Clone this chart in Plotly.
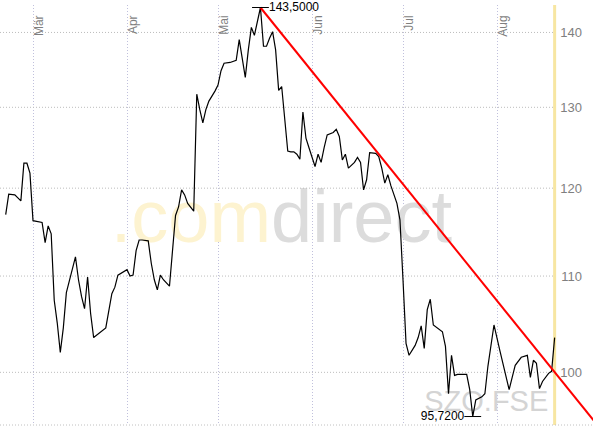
import plotly.graph_objects as go
import pandas as pd

# ---- data ----
dates = [
    "2007-02-20", "2007-02-21", "2007-02-23", "2007-02-25", "2007-02-26", "2007-02-27", "2007-02-28",
    "2007-03-01", "2007-03-04", "2007-03-05", "2007-03-06", "2007-03-07", "2007-03-08", "2007-03-09",
    "2007-03-10", "2007-03-11", "2007-03-12", "2007-03-13", "2007-03-15", "2007-03-16", "2007-03-17",
    "2007-03-18", "2007-03-19", "2007-03-20", "2007-03-21", "2007-03-25", "2007-03-27", "2007-03-28",
    "2007-03-29", "2007-04-01", "2007-04-02", "2007-04-03", "2007-04-04", "2007-04-05", "2007-04-06",
    "2007-04-08", "2007-04-09", "2007-04-10", "2007-04-11", "2007-04-12", "2007-04-13", "2007-04-15",
    "2007-04-16", "2007-04-17", "2007-04-18", "2007-04-19", "2007-04-20", "2007-04-21", "2007-04-23",
    "2007-04-24", "2007-04-25", "2007-04-26", "2007-04-27", "2007-04-28", "2007-04-30", "2007-05-01",
    "2007-05-02", "2007-05-03", "2007-05-05", "2007-05-07", "2007-05-08", "2007-05-10", "2007-05-11",
    "2007-05-12", "2007-05-13", "2007-05-14", "2007-05-15", "2007-05-16", "2007-05-17", "2007-05-18",
    "2007-05-19", "2007-05-20", "2007-05-21", "2007-05-22", "2007-05-23", "2007-05-24", "2007-05-25",
    "2007-05-26", "2007-05-27", "2007-05-28", "2007-05-29", "2007-05-30", "2007-05-31", "2007-06-01",
    "2007-06-02", "2007-06-03", "2007-06-04", "2007-06-05", "2007-06-06", "2007-06-08", "2007-06-09",
    "2007-06-10", "2007-06-11", "2007-06-12", "2007-06-13", "2007-06-15", "2007-06-16", "2007-06-17",
    "2007-06-18", "2007-06-19", "2007-06-20", "2007-06-22", "2007-06-23", "2007-06-24", "2007-06-25",
    "2007-06-26", "2007-06-27", "2007-06-29", "2007-06-30", "2007-07-01", "2007-07-02", "2007-07-03",
    "2007-07-05", "2007-07-06", "2007-07-07", "2007-07-08", "2007-07-09", "2007-07-10", "2007-07-11",
    "2007-07-14", "2007-07-15", "2007-07-16", "2007-07-17", "2007-07-18", "2007-07-19", "2007-07-22",
    "2007-07-23", "2007-07-24", "2007-07-25", "2007-07-27", "2007-07-28", "2007-07-29", "2007-07-31",
    "2007-08-02", "2007-08-04", "2007-08-05", "2007-08-06", "2007-08-07", "2007-08-09", "2007-08-11",
    "2007-08-12", "2007-08-13", "2007-08-14", "2007-08-15", "2007-08-16", "2007-08-18", "2007-08-19",
    "2007-08-20",
]
close = [
    116.9, 119.3, 119.2, 118.5, 123.0, 123.0, 121.8,
    116.2, 116.0, 113.7, 115.6, 114.7, 107.4, 105.0,
    102.0, 104.5, 108.2, 109.6, 112.1, 109.6, 107.8,
    106.5, 109.9, 106.0, 103.5, 104.5, 108.1, 108.8,
    110.1, 110.7, 110.0, 110.1, 112.8, 114.0, 114.0,
    113.9, 111.4, 109.6, 108.5, 110.1, 109.6, 108.9,
    112.5, 116.8, 117.8, 119.8, 119.2, 118.2, 117.3,
    131.7, 129.7, 128.0, 129.7, 130.8, 132.1, 132.9,
    134.8, 135.8, 135.9, 136.2, 139.0, 133.9, 137.6,
    140.7, 139.6, 141.7, 143.5, 138.1, 138.1, 139.2,
    140.1, 137.6, 132.2, 132.7, 128.6, 124.5, 124.4,
    124.4, 124.1, 123.5, 129.4, 126.1, 124.9, 123.6,
    122.6, 124.1, 123.1, 124.9, 126.5, 126.8, 127.2,
    126.3, 123.4, 124.1, 122.4, 123.1, 123.7, 123.1,
    119.8, 121.0, 124.3, 124.2, 123.8, 122.4, 120.6,
    121.6, 120.3, 118.2, 116.3, 109.6, 102.9, 101.7,
    102.7, 103.5, 104.7, 102.4, 106.4, 107.5, 104.8,
    104.1, 102.6, 97.9, 101.7, 99.7, 99.8, 99.8,
    98.3, 95.72, 97.3, 97.6, 97.9, 100.6, 104.8,
    102.1, 99.4, 98.3, 99.5, 100.7, 101.5, 101.7,
    99.5, 101.2, 100.9, 98.4, 99.1, 99.9, 100.1,
    103.5,
]
month_ticks = ["2007-03-01", "2007-04-01", "2007-05-01", "2007-06-01", "2007-07-01", "2007-08-01"]
month_labels = ["Mär", "Apr", "Mai", "Jun", "Jul", "Aug"]
y_ticks = [100, 110, 120, 130, 140]
y_tick_labels = ["100", "110", "120", "130", "140"]
trend_dates = ["2007-05-15", "2007-09-02"]
trend_values = [143.5, 95.3]
symbol_text = "SZO.FSE"

# ---- layout parameters ----
W, H = 593, 426
x_range = ["2007-02-18 02:53", "2007-09-01 15:36"]
y_range_log = [1.97736, 2.157925]
FONT = "Liberation Sans, Arial, sans-serif"
DOT = "1px,2px"

i_max = close.index(max(close))
i_min = close.index(min(close))
fmt = lambda v: f"{v:.4f}".replace(".", ",")

x0 = pd.Timestamp(x_range[0])
x1 = pd.Timestamp(x_range[1])
def xfrac(f):
    return (x0 + (x1 - x0) * f).strftime("%Y-%m-%d %H:%M")
def yfrac(f):
    return 10 ** (y_range_log[0] + (y_range_log[1] - y_range_log[0]) * f)

fig = go.Figure()

# watermarks (drawn first so the price line is on top)
fig.add_trace(go.Scatter(
    x=[xfrac(0.4745)], y=[yfrac(0.48)], mode="text",
    text=["<span style='color:#fdf3d0'>.com</span><span style='color:#dcdcdc'>direct</span>"],
    textfont=dict(family=FONT, size=74, color="#dcdcdc"),
    textposition="middle center", hoverinfo="skip", showlegend=False, cliponaxis=False,
))
fig.add_trace(go.Scatter(
    x=[xfrac(0.82)], y=[yfrac(0.05)], mode="text", text=[symbol_text],
    textfont=dict(family=FONT, size=29, color="#d4d4d4"),
    textposition="middle center", hoverinfo="skip", showlegend=False, cliponaxis=False,
))

# horizontal grid lines up to the last quote
gx, gy = [], []
for v in y_ticks:
    gx += [x_range[0], dates[-1], None]
    gy += [v, v, None]
fig.add_trace(go.Scatter(
    x=gx, y=gy, mode="lines", line=dict(color="#bcbcbc", width=1, dash=DOT),
    hoverinfo="skip", showlegend=False,
))

# price line
fig.add_trace(go.Scatter(
    x=dates, y=close, mode="lines", line=dict(color="#000000", width=1.2),
    hoverinfo="skip", showlegend=False,
))

# trend line
fig.add_trace(go.Scatter(
    x=trend_dates, y=trend_values, mode="lines", line=dict(color="#ff0000", width=2),
    hoverinfo="skip", showlegend=False,
))

# high / low markers
fig.add_trace(go.Scatter(
    x=[dates[i_max], dates[i_min]], y=[close[i_max], close[i_min]],
    mode="markers+text", text=[fmt(close[i_max]), fmt(close[i_min])],
    textposition=["middle right", "middle left"],
    textfont=dict(family=FONT, size=12, color="#000000"),
    marker=dict(symbol="line-ew", size=12, line=dict(color="#000000", width=1)),
    hoverinfo="skip", showlegend=False, cliponaxis=False,
))

fig.update_layout(
    width=W, height=H,
    margin=dict(l=0, r=0, t=5, b=1),
    paper_bgcolor="white", plot_bgcolor="white",
    showlegend=False,
    xaxis=dict(
        type="date", range=x_range, side="bottom", anchor="free", position=1,
        tickmode="array", tickvals=month_ticks, ticktext=month_labels,
        tickangle=-90, ticklabelshift=6, ticklabelstandoff=7,
        tickfont=dict(family=FONT, size=12, color="#7f7f7f"),
        showgrid=True, gridcolor="#c0c0dc", griddash=DOT, gridwidth=1,
        showline=False, zeroline=False, ticks="", automargin=False,
    ),
    yaxis=dict(
        type="log", range=y_range_log, side="right",
        tickmode="array", tickvals=y_ticks, ticktext=y_tick_labels,
        ticklabelposition="inside", ticklabelstandoff=8,
        tickfont=dict(family=FONT, size=13, color="#7f7f7f"),
        showgrid=False, showline=False, zeroline=False, ticks="", automargin=False,
    ),
    shapes=[
        dict(type="line", xref="x", yref="paper", x0=dates[-1], x1=dates[-1], y0=0, y1=1,
             line=dict(color="#f7e6a2", width=3), layer="below"),
        dict(type="line", xref="paper", yref="paper", x0=0, x1=1, y0=0, y1=0,
             line=dict(color="#c0c0c0", width=1, dash=DOT), layer="below"),
    ],
)

fig.write_html(
    "out.html",
    config={"displayModeBar": False},
    post_script="document.body.style.margin='0';document.body.style.overflow='hidden';",
)
